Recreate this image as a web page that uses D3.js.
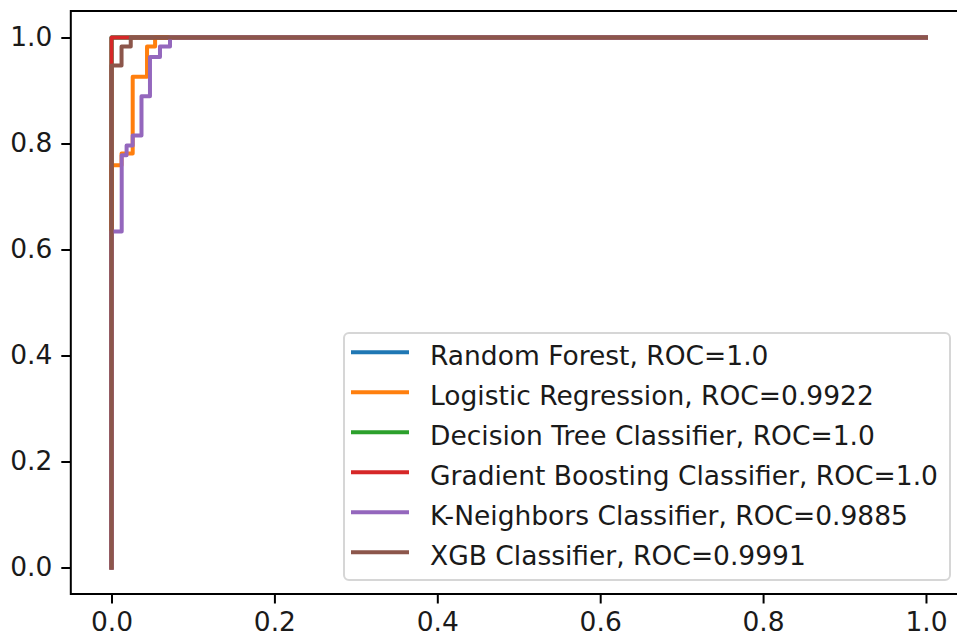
<!DOCTYPE html>
<html>
<head>
<meta charset="utf-8">
<script src="https://cdn.jsdelivr.net/npm/d3@7"></script>
<style>
  html, body { margin: 0; padding: 0; background: #fff; }
  svg { display: block; font-family: "DejaVu Sans", sans-serif; }
</style>
</head>
<body>
<svg id="chart" width="957" height="641"></svg>
<script>
// ROC curves (false positive rate vs. true positive rate) for each classifier
const models = ["Random Forest", "Logistic Regression", "Decision Tree Classifier",
                "Gradient Boosting Classifier", "K-Neighbors Classifier", "XGB Classifier"];
const aucLabels = ["1.0", "0.9922", "1.0", "1.0", "0.9885", "0.9991"];
const colors = ["#1f77b4", "#ff7f0e", "#2ca02c", "#d62728", "#9467bd", "#8c564b"];

const rfFpr = [0, 0, 1];
const rfTpr = [0, 1, 1];

const lrFpr = [0, 0, 0.0123, 0.0123, 0.026, 0.026, 0.0436, 0.0436, 0.0535, 0.0535, 1];
const lrTpr = [0, 0.759, 0.759, 0.781, 0.781, 0.926, 0.926, 0.983, 0.983, 1, 1];

const dtFpr = [0, 0, 1];
const dtTpr = [0, 1, 1];

const gbFpr = [0, 0, 1];
const gbTpr = [0, 1, 1];

const knnFpr = [0, 0, 0.0125, 0.0125, 0.0185, 0.0185, 0.026, 0.026, 0.0368, 0.0368,
                0.0472, 0.0472, 0.0595, 0.0595, 0.0718, 0.0718, 1];
const knnTpr = [0, 0.634, 0.634, 0.778, 0.778, 0.796, 0.796, 0.815, 0.815, 0.889,
                0.889, 0.963, 0.963, 0.983, 0.983, 1, 1];

const xgbFpr = [0, 0, 0.0123, 0.0123, 0.0236, 0.0236, 1];
const xgbTpr = [0, 0.947, 0.947, 0.983, 0.983, 1, 1];

const fprs = [rfFpr, lrFpr, dtFpr, gbFpr, knnFpr, xgbFpr];
const tprs = [rfTpr, lrTpr, dtTpr, gbTpr, knnTpr, xgbTpr];

const xTicks = [0, 0.2, 0.4, 0.6, 0.8, 1.0];
const yTicks = [0, 0.2, 0.4, 0.6, 0.8, 1.0];

const svg = d3.select("#chart");
const FONT = 26.5;

// axes box (right edge extends slightly beyond the canvas)
const axLeft = 70.8, axRight = 966.7, axTop = 11, axBottom = 594;

const x = d3.scaleLinear().domain([-0.05, 1.05]).range([axLeft, axRight]);
const y = d3.scaleLinear().domain([-0.05, 1.05]).range([axBottom, axTop]);

const line = d3.line().x(d => x(d[0])).y(d => y(d[1]));

const plot = svg.append("g");
models.forEach((m, i) => {
  const pts = fprs[i].map((f, k) => [f, tprs[i][k]]);
  plot.append("path")
    .datum(pts)
    .attr("d", line)
    .attr("fill", "none")
    .attr("stroke", colors[i])
    .attr("stroke-width", 4)
    .attr("stroke-linejoin", "round")
    .attr("stroke-linecap", "square");
});

// spines
svg.append("rect")
  .attr("x", axLeft).attr("y", axTop)
  .attr("width", axRight - axLeft).attr("height", axBottom - axTop)
  .attr("fill", "none").attr("stroke", "#000").attr("stroke-width", 2);

// axes
const xAxis = d3.axisBottom(x).tickValues(xTicks).tickFormat(d3.format(".1f"))
  .tickSize(9.5).tickPadding(9);
const yAxis = d3.axisLeft(y).tickValues(yTicks).tickFormat(d3.format(".1f"))
  .tickSize(9.5).tickPadding(9);

const gx = svg.append("g").attr("transform", `translate(0,${axBottom})`).call(xAxis);
const gy = svg.append("g").attr("transform", `translate(${axLeft},0)`).call(yAxis);
[gx, gy].forEach(g => {
  g.select(".domain").remove();
  g.selectAll(".tick line").attr("stroke", "#000").attr("stroke-width", 2);
  g.selectAll(".tick text").attr("fill", "#1a1a1a")
    .style("font-family", "DejaVu Sans").style("font-size", FONT + "px");
});

// legend
const lg = svg.append("g");
lg.append("rect")
  .attr("x", 344).attr("y", 333).attr("width", 606).attr("height", 247)
  .attr("rx", 5).attr("ry", 5)
  .attr("fill", "#fff").attr("fill-opacity", 0.8)
  .attr("stroke", "#d6d6d6").attr("stroke-width", 2);

models.forEach((m, i) => {
  const cy = 352.3 + i * 40;
  lg.append("line")
    .attr("x1", 351).attr("x2", 409).attr("y1", cy).attr("y2", cy)
    .attr("stroke", colors[i]).attr("stroke-width", 4);
  lg.append("text")
    .attr("x", 430).attr("y", cy + 12.5)
    .attr("fill", "#1a1a1a")
    .style("font-size", FONT + "px")
    .text(`${m}, ROC=${aucLabels[i]}`);
});
</script>
</body>
</html>
